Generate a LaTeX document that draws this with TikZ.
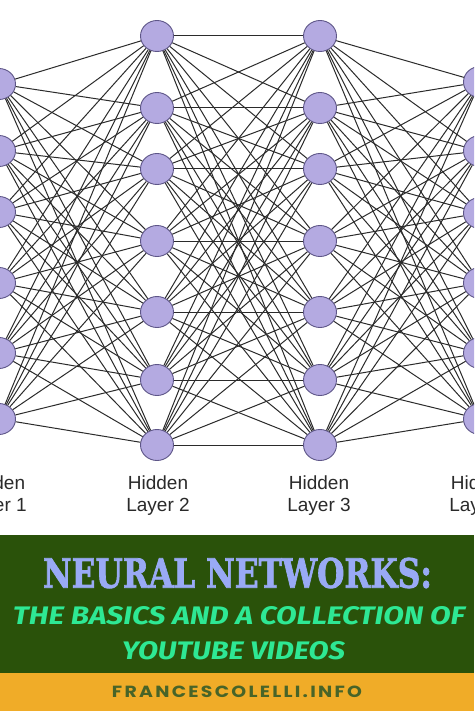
\documentclass[tikz,border=0pt]{standalone}
\usepackage{fontspec}
\usetikzlibrary{shapes.geometric}
\newfontfamily\labfont{Liberation Sans}
\newfontfamily\ttlfont{DejaVu Serif}[BoldFeatures={FakeBold=2}]
\newfontfamily\subfont{Fira Sans}
\newfontfamily\sitefont{Poppins}[LetterSpace=12]
\definecolor{nodefill}{HTML}{B4AAE1}
\definecolor{nodeborder}{HTML}{5E5688}
\definecolor{linkgray}{HTML}{2B2B2B}
\definecolor{labgray}{HTML}{2A2A2A}
\definecolor{bannergreen}{HTML}{2A520A}
\definecolor{bandorange}{HTML}{F0AC28}
\definecolor{titleblue}{HTML}{99AAF5}
\definecolor{subgreen}{HTML}{2EE894}
\definecolor{sitegreen}{HTML}{486428}
\begin{document}
\begin{tikzpicture}[x=1pt,y=-1pt,
  neuron/.style={ellipse, draw=nodeborder, fill=nodefill, line width=0.9pt,
    minimum width=33pt, minimum height=31pt, inner sep=0pt},
  link/.style={draw=linkgray, line width=1pt},
  lab/.style={font=\labfont\fontsize{19}{22}\selectfont, align=center,
    inner sep=0pt, text=labgray, anchor=north},
  bannertext/.style={inner sep=0pt}]
\useasboundingbox (0,0) rectangle (474,711);
\clip (0,0) rectangle (474,711);
\fill[white] (0,0) rectangle (474,711);
% neurons
\foreach \yy [count=\i] in {84,151,212,283,353,419}
  \node[neuron] (a\i) at (-1,\yy) {};
\foreach \yy [count=\i] in {36,108,169,241,312,380,445}
  \node[neuron] (b\i) at (157,\yy) {};
\foreach \yy [count=\i] in {36,108,169,241,312,380,445}
  \node[neuron] (c\i) at (320,\yy) {};
\foreach \yy [count=\i] in {82,151,213,283,353,419}
  \node[neuron] (d\i) at (480,\yy) {};
% connections
\foreach \i in {1,...,6}
  \foreach \j in {1,...,7}
    \draw[link] (a\i) -- (b\j);
\foreach \i in {1,...,7}
  \foreach \j in {1,...,7}
    \draw[link] (b\i) -- (c\j);
\foreach \i in {1,...,7}
  \foreach \j in {1,...,6}
    \draw[link] (c\i) -- (d\j);
% labels
\node[lab] (l1) at (-5,476) {Hidden\\Layer 1};
\node[lab] (l2) at (158,476) {Hidden\\Layer 2};
\node[lab] (l3) at (319,476) {Hidden\\Layer 3};
\node[lab] (l4) at (481,476) {Hidden\\Layer 4};
% banner
\fill[bannergreen] (0,535) rectangle (474,673);
\fill[bandorange] (0,673) rectangle (474,711);
\node[bannertext, text=titleblue] (title) at (237.5,573)
  {\resizebox{389pt}{30pt}{\ttlfont\bfseries NEURAL NETWORKS:}};
\node[bannertext, text=subgreen] (sub1) at (239,616)
  {\resizebox{452pt}{18pt}{\subfont\bfseries\itshape THE BASICS AND A COLLECTION OF}};
\node[bannertext, text=subgreen] (sub2) at (233.5,651)
  {\resizebox{223pt}{18pt}{\subfont\bfseries\itshape YOUTUBE VIDEOS}};
\node[bannertext, text=sitegreen] (site) at (237,691.5)
  {\resizebox{250pt}{11.5pt}{\sitefont\bfseries FRANCESCOLELLI.INFO}};
\end{tikzpicture}
\end{document}
